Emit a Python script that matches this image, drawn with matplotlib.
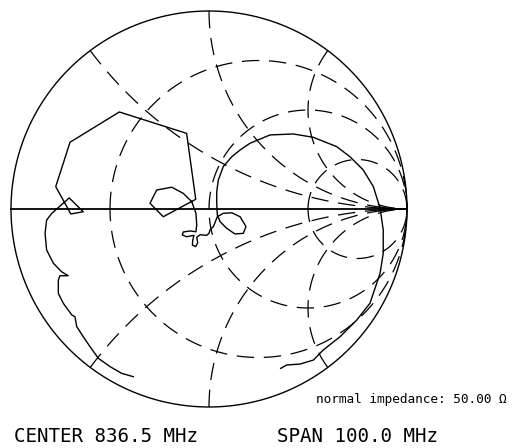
import numpy as np
import matplotlib
matplotlib.use("Agg")
import matplotlib.pyplot as plt

plt.rcParams['font.family'] = ['DejaVu Sans Mono', 'DejaVu Sans']
plt.rcParams['lines.scale_dashes'] = False

# Smith chart grid values
r_circles = [1 / 3, 1.0, 3.0]
x_arcs = [0.5, 1.0, 2.0, -0.5, -1.0, -2.0]

gamma_re = [-0.382, -0.441, -0.500, -0.559, -0.601, -0.635, -0.668, -0.677, -0.693, -0.736,
            -0.761, -0.761, -0.753, -0.711, -0.736, -0.744, -0.786, -0.820, -0.828, -0.820,
            -0.794, -0.706, -0.635, -0.698, -0.774, -0.702, -0.453, -0.113, -0.067, -0.231,
            -0.298, -0.264, -0.188, -0.130, -0.087, -0.066, -0.062, -0.066, -0.096, -0.130,
            -0.135, -0.113, -0.076, -0.082, -0.084, -0.067, -0.057, -0.062, -0.045, -0.012,
            0.000, 0.005, 0.022, 0.042, 0.072, 0.115, 0.157, 0.187, 0.173, 0.131,
            0.089, 0.056, 0.042, 0.039, 0.039, 0.047, 0.072, 0.115, 0.157, 0.207,
            0.308, 0.426, 0.527, 0.645, 0.712, 0.779, 0.830, 0.864, 0.880, 0.880,
            0.864, 0.813, 0.746, 0.662, 0.577, 0.527, 0.460, 0.392, 0.362]
gamma_im = [-0.847, -0.830, -0.796, -0.754, -0.695, -0.645, -0.594, -0.544, -0.535, -0.476,
            -0.426, -0.359, -0.337, -0.337, -0.322, -0.317, -0.274, -0.207, -0.123, -0.056,
            -0.022, 0.056, -0.014, -0.025, 0.113, 0.337, 0.490, 0.382, 0.049, -0.039,
            0.029, 0.096, 0.110, 0.079, 0.037, -0.022, -0.081, -0.115, -0.111, -0.116,
            -0.131, -0.140, -0.133, -0.157, -0.182, -0.190, -0.170, -0.143, -0.130, -0.133,
            -0.123, -0.106, -0.089, -0.039, -0.022, -0.019, -0.039, -0.089, -0.123, -0.126,
            -0.097, -0.064, -0.030, 0.029, 0.087, 0.146, 0.214, 0.264, 0.298, 0.332,
            0.374, 0.379, 0.362, 0.315, 0.264, 0.197, 0.113, 0.004, -0.106, -0.224,
            -0.325, -0.476, -0.561, -0.645, -0.712, -0.763, -0.783, -0.788, -0.805]

center_mhz = 836.5
span_mhz = 100.0
z0 = 50.00

# pixel layout of the chart
W, H = 515, 448
CX, CY, R = 209, 209, 198

fig = plt.figure(figsize=(W / 100, H / 100), dpi=100)
ax = fig.add_axes([0, 0, 1, 1])
ax.set_xlim(-CX / R, (W - CX) / R)
ax.set_ylim((CY - H) / R, CY / R)
ax.axis('off')

dash = (12.5, 7.0)
t = np.linspace(0, 2 * np.pi, 400)

# outer circle and real axis
ax.plot(np.cos(t), np.sin(t), color='k', lw=1.0)
ax.plot([-1, 1], [0, 0], color='k', lw=1.3)
ax.annotate('', xy=(1.0, 0), xytext=(0.88, 0),
            arrowprops=dict(arrowstyle='-|>,head_length=1.4,head_width=0.12',
                            color='k', lw=1.0, shrinkA=0, shrinkB=0))

# constant resistance circles
for r in r_circles:
    c = r / (r + 1)
    rad = 1 / (r + 1)
    th = np.linspace(np.pi, -np.pi, 500)
    ax.plot(c + rad * np.cos(th), rad * np.sin(th), color='k', lw=0.9,
            linestyle=(0, dash))

# constant reactance arcs
for x in x_arcs:
    b = 1 / abs(x)
    xi = (x * x - 1) / (x * x + 1)
    yi = 2 * abs(x) / (x * x + 1)
    th0 = np.arctan2(yi - b, xi - 1) % (2 * np.pi)
    th = np.linspace(th0, 1.5 * np.pi, 400)
    px = 1 + b * np.cos(th)
    py = b + b * np.sin(th)
    if x < 0:
        py = -py
    ax.plot(px, py, color='k', lw=0.9, linestyle=(0, dash))

# measured trace
ax.plot(gamma_re, gamma_im, color='k', lw=1.0)

fig.text(316 / W, 1 - 403 / H, f'normal impedance: {z0:.2f} Ω', fontsize=9.2,
         ha='left', va='baseline')
fig.text(14 / W, 1 - 442 / H, f'CENTER {center_mhz:.1f} MHz', fontsize=13.8,
         ha='left', va='baseline')
fig.text(277 / W, 1 - 442 / H, f'SPAN {span_mhz:.1f} MHz', fontsize=13.8,
         ha='left', va='baseline')

fig.savefig('out.png', dpi=100, facecolor='white')
